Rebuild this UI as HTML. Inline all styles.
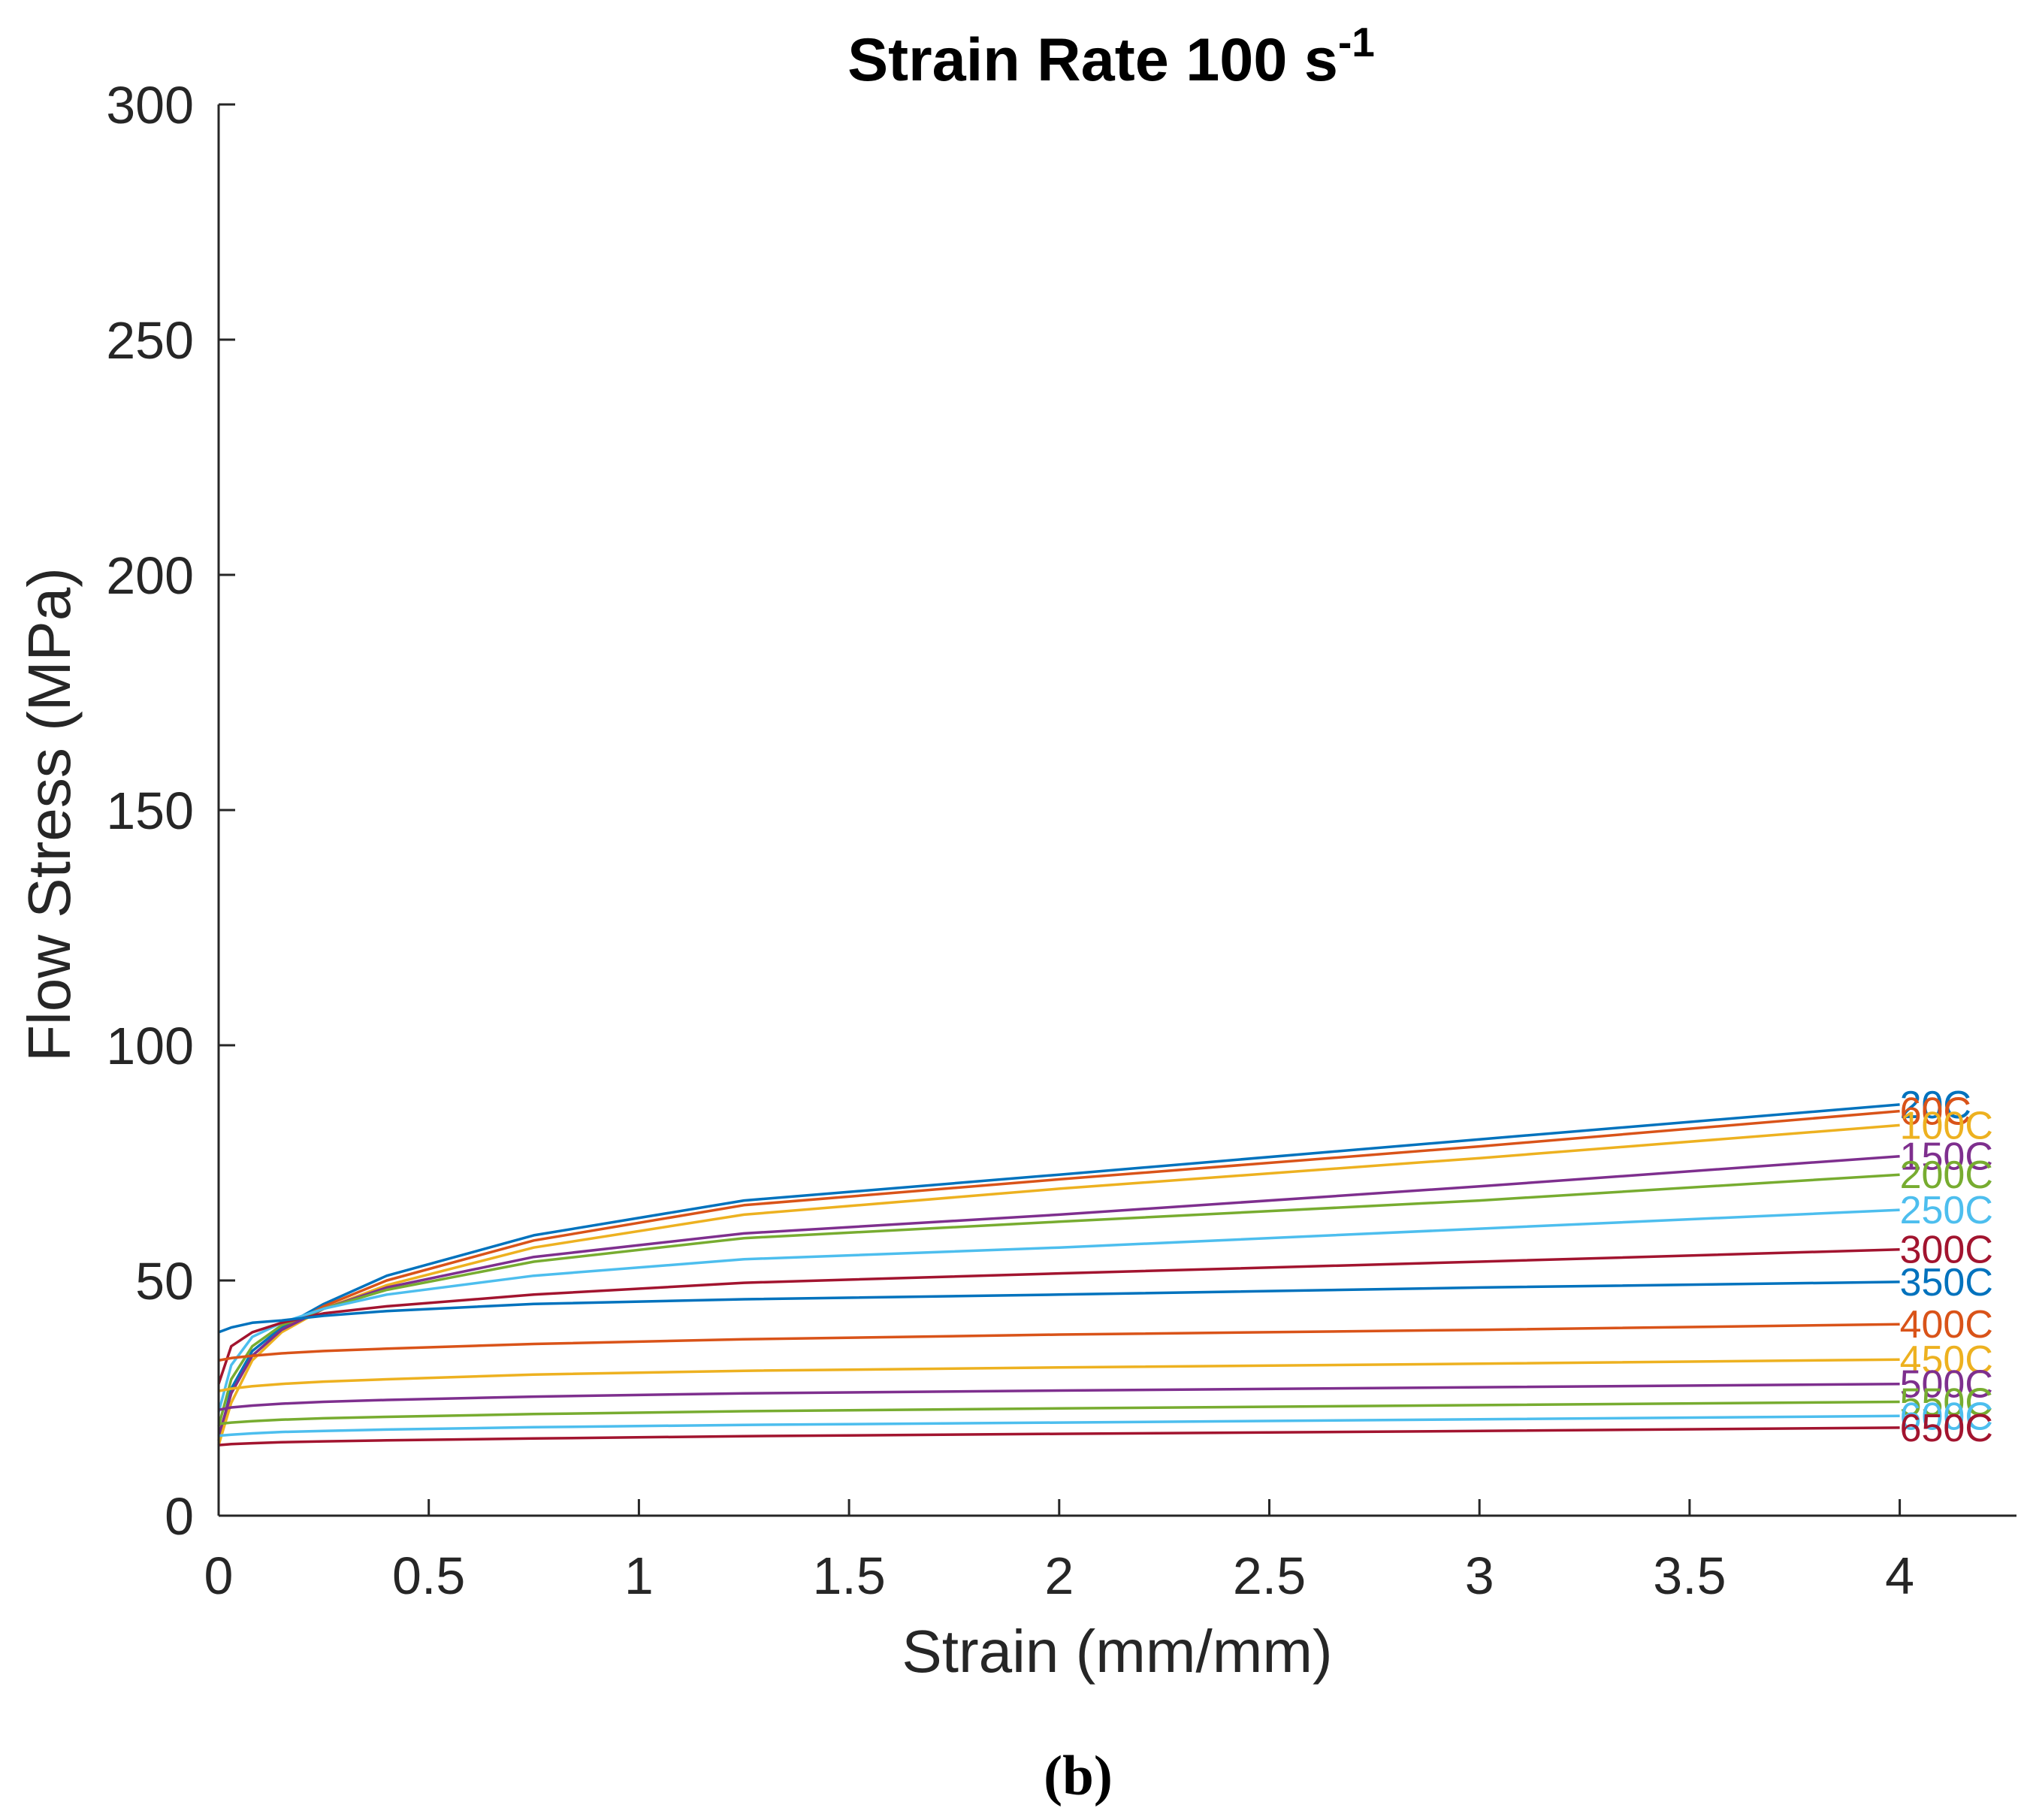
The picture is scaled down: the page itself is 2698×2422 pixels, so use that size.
<!DOCTYPE html>
<html>
<head>
<meta charset="utf-8">
<style>
html,body{margin:0;padding:0;background:#fff;}
svg{display:block;}
text{font-family:"Liberation Sans",Arial,sans-serif;}
</style>
</head>
<body>
<svg id="chart" width="2698" height="2422" viewBox="0 0 2698 2422" xmlns="http://www.w3.org/2000/svg">
  <text x="1479" y="107" text-anchor="middle" font-size="81" font-weight="bold" fill="#000">Strain Rate 100 s<tspan dy="-32" font-size="55">-1</tspan></text>
  <g id="plot"></g>
  <g id="axes"></g>
  <text x="1487" y="2225" text-anchor="middle" font-size="80" fill="#262626">Strain (mm/mm)</text>
  <text transform="translate(93,1084) rotate(-90)" text-anchor="middle" font-size="80" fill="#262626">Flow Stress (MPa)</text>
  <text x="1435" y="2388" text-anchor="middle" font-size="75" font-weight="bold" style="font-family:'Liberation Serif',serif" fill="#000">(b)</text>
</svg>
<script>
const strains = [0,0.03,0.08,0.15,0.25,0.4,0.75,1.25,2,3,4];
const seriesNames = ["20C","60C","100C","150C","200C","250C","300C","350C","400C","450C","500C","550C","600C","650C"];
const s20  = [16,27,35,40,45,51,59.6,67,72.5,80,87.4];
const s60  = [16,26,34,39.5,44.5,50,58.5,66,71.5,78.5,86];
const s100 = [15,24,33,39,44,49,57,64,69.5,76,83];
const s150 = [17,26,34,39.5,44,48.5,55,60,64,70,76.4];
const s200 = [19,29,36,40.5,44,48,54,59,62.5,67,72.5];
const s250 = [22,32,38,41,44,47,51,54.5,57,61,65];
const s300 = [28,36,39,41,43,44.5,47,49.5,51.5,54,56.6];
const s350 = [39,40,41,41.5,42.5,43.5,45,46,47,48.5,49.7];
const s400 = [33,33.5,34,34.5,35,35.5,36.5,37.5,38.5,39.5,40.7];
const s450 = [26.5,27,27.5,28,28.5,29,30,30.8,31.5,32.3,33.2];
const s500 = [22.5,23,23.4,23.8,24.2,24.6,25.3,26,26.6,27.3,28];
const s550 = [19.5,19.8,20.1,20.4,20.7,21,21.6,22.2,22.8,23.5,24.2];
const s600 = [17,17.2,17.5,17.8,18,18.3,18.8,19.3,19.8,20.5,21.2];
const s650 = [15,15.2,15.4,15.6,15.8,16,16.4,16.9,17.4,18,18.7];
const xTicks = [0,0.5,1,1.5,2,2.5,3,3.5,4];
const xTickLabels = ["0","0.5","1","1.5","2","2.5","3","3.5","4"];
const yTicks = [0,50,100,150,200,250,300];
const yTickLabels = ["0","50","100","150","200","250","300"];

const allSeries = [s20,s60,s100,s150,s200,s250,s300,s350,s400,s450,s500,s550,s600,s650];
const colors = ["#0072BD","#D95319","#EDB120","#7E2F8E","#77AC30","#4DBEEE","#A2142F"];
const X0 = 291, XPU = 559.4, Y0 = 2017, YPU = 1878/300, XEND = 2684, YTOP = 139;
function sx(v){ return X0 + v*XPU; }
function sy(v){ return Y0 - v*YPU; }
const NS = "http://www.w3.org/2000/svg";
const plot = document.getElementById('plot');
const axes = document.getElementById('axes');

allSeries.forEach((vals, i) => {
  const p = document.createElementNS(NS, 'polyline');
  p.setAttribute('points', vals.map((v, j) => sx(strains[j]).toFixed(1) + ',' + sy(v).toFixed(1)).join(' '));
  p.setAttribute('fill', 'none');
  p.setAttribute('stroke', colors[i % 7]);
  p.setAttribute('stroke-width', '3.5');
  p.setAttribute('stroke-linejoin', 'round');
  
  
  plot.appendChild(p);
  const t = document.createElementNS(NS, 'text');
  t.setAttribute('x', sx(4));
  t.setAttribute('y', sy(vals[vals.length - 1]) + 18);
  t.setAttribute('font-size', '52');
  t.setAttribute('fill', colors[i % 7]);
  t.textContent = seriesNames[i];
  
  
  plot.appendChild(t);
});

function line(x1,y1,x2,y2){
  const l = document.createElementNS(NS, 'line');
  l.setAttribute('x1',x1); l.setAttribute('y1',y1); l.setAttribute('x2',x2); l.setAttribute('y2',y2);
  l.setAttribute('stroke','#262626'); l.setAttribute('stroke-width','3');
  return l;
}
const xa = line(X0, Y0, XEND, Y0);


axes.appendChild(xa);
const ya = line(X0, Y0, X0, YTOP);


axes.appendChild(ya);

xTicks.forEach((v, i) => {
  const tk = line(sx(v), Y0, sx(v), Y0 - 22);
  
  
  axes.appendChild(tk);
  const t = document.createElementNS(NS, 'text');
  t.setAttribute('x', sx(v)); t.setAttribute('y', 2121);
  t.setAttribute('text-anchor', 'middle'); t.setAttribute('font-size', '70'); t.setAttribute('fill', '#262626');
  t.textContent = xTickLabels[i];
  
  
  axes.appendChild(t);
});
yTicks.forEach((v, i) => {
  const tk = line(X0, sy(v), X0 + 22, sy(v));
  
  
  axes.appendChild(tk);
  const t = document.createElementNS(NS, 'text');
  t.setAttribute('x', 258); t.setAttribute('y', sy(v) + 25);
  t.setAttribute('text-anchor', 'end'); t.setAttribute('font-size', '70'); t.setAttribute('fill', '#262626');
  t.textContent = yTickLabels[i];
  
  
  axes.appendChild(t);
});
</script>
</body>
</html>
